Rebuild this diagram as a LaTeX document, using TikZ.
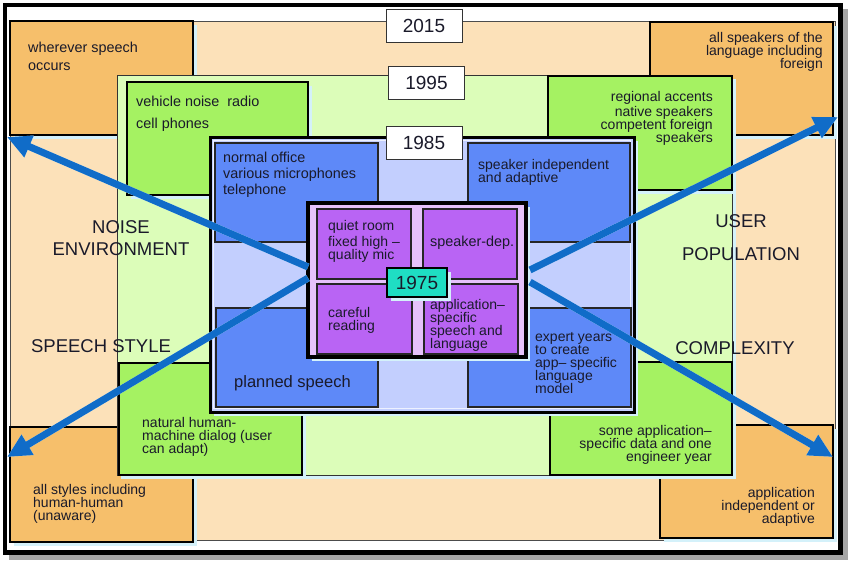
\documentclass[tikz,border=0pt]{standalone}
\usepackage{fontspec}
\setmainfont{Liberation Sans}
\usetikzlibrary{arrows.meta,shadows}
\definecolor{beige}{HTML}{FCE1B9}
\definecolor{orangeb}{HTML}{F6BF6B}
\definecolor{lgreen}{HTML}{DCFDB9}
\definecolor{dgreen}{HTML}{A5F262}
\definecolor{lblue}{HTML}{C3CFFE}
\definecolor{dblue}{HTML}{5E89F8}
\definecolor{lpurple}{HTML}{E6C2FB}
\definecolor{dpurple}{HTML}{B964F4}
\definecolor{yearteal}{HTML}{1FDEC3}
\definecolor{arrowblue}{HTML}{106CC8}
\definecolor{shadowc}{HTML}{D4F1FA}
\definecolor{txtc}{HTML}{1A1A2A}
\tikzset{
  shbox/.style={drop shadow={shadow xshift=4pt,shadow yshift=-4pt,fill=shadowc,opacity=1}},
  orangebox/.style={shbox,fill=orangeb,draw=black,line width=2.5pt},
  greenbox/.style={shbox,fill=dgreen,draw=black,line width=2.5pt},
  bluebox/.style={fill=dblue,draw=black!85,line width=1.2pt},
  purplebox/.style={fill=dpurple,draw=black!85,line width=1.2pt},
  yearbox/.style={fill=white,draw=black!80,line width=1pt,inner sep=0pt,
    minimum width=76pt,minimum height=33pt,font=\fontsize{19}{19}\selectfont,text=txtc},
  tight/.style={execute at begin node={\lineskiplimit=-30pt\lineskip=0pt}},
  txt/.style={tight,inner sep=0pt,text=txtc,align=left},
  txtr/.style={tight,inner sep=0pt,text=txtc,align=right},
  big/.style={tight,inner sep=0pt,text=txtc,align=center},
  bigarrow/.style={draw=arrowblue,line width=7pt,-{Triangle[length=24pt,width=22pt]}},
  arrowshadow/.style={draw=shadowc,line width=7pt,-{Triangle[length=24pt,width=22pt]}}
}
\begin{document}
\begin{tikzpicture}[x=1pt,y=-1pt]
\useasboundingbox (0,0) rectangle (852,563);
% outer frame
\fill[black!35] (9,9) rectangle (848,560);
\draw[line width=4.5pt,fill=white] (5,5) rectangle (840.5,552.5);
% 2015 area
\filldraw[fill=beige,draw=black!70,line width=0.8pt] (10,21) rectangle (835,540);
\draw[orangebox] (10,21) rectangle (193,135);
\draw[orangebox] (650,22) rectangle (833,135);
\draw[orangebox] (10,427) rectangle (193,542);
\draw[orangebox] (660,425) rectangle (833,538);
% 1995 area
\filldraw[shbox,fill=lgreen,draw=black!80,line width=1pt] (117,75) rectangle (732,475);
\draw[greenbox] (127,82) rectangle (308,195);
\draw[greenbox] (548,76) rectangle (732,190);
\draw[greenbox] (119,363) rectangle (302,475);
\draw[greenbox] (550,362) rectangle (732,475);
% 1985 area
\filldraw[shbox,fill=lblue,draw=black,line width=3pt] (210,137) rectangle (634,412);
\draw[white!70!lblue,line width=1.2pt] (213.5,140.5) rectangle (630.5,408.5);
\draw[bluebox] (215,143) rectangle (378,242);
\draw[bluebox] (468,143) rectangle (630,242);
\draw[bluebox] (216,308) rectangle (378,407);
\draw[bluebox] (468,308) rectangle (631,407);
% 1975 area
\filldraw[shbox,fill=lpurple,draw=black,line width=3.5pt] (308,203) rectangle (526,357);
\draw[purplebox] (317,209) rectangle (411,279);
\draw[purplebox] (423,209) rectangle (517,279);
\draw[purplebox] (317,284) rectangle (412,354);
\draw[purplebox] (424,284) rectangle (518,354);
% year labels
\node[yearbox] (y2015) at (424,26) {2015};
\node[yearbox] (y1995) at (426.5,82.5) {1995};
\node[yearbox] (y1985) at (424,143) {1985};
\node[yearbox,fill=yearteal,draw=black,line width=2.5pt,minimum width=60pt,minimum height=29pt,shbox] (y1975) at (417,282.5) {1975};
% arrows
\coordinate (cul) at (308,267);
\coordinate (cdl) at (308,278);
\coordinate (cur) at (530,270);
\coordinate (cdr) at (530,282);
\coordinate (tul) at (7,137);
\coordinate (tdl) at (7,457);
\coordinate (tur) at (838,117);
\coordinate (tdr) at (833,457);
\begin{scope}[shift={(3,3)}]
\draw[arrowshadow] (cul) -- (tul);
\draw[arrowshadow] (cdl) -- (tdl);
\draw[arrowshadow] (cur) -- (tur);
\draw[arrowshadow] (cdr) -- (tdr);
\end{scope}
\draw[bigarrow] (cul) -- (tul);
\draw[bigarrow] (cdl) -- (tdl);
\draw[bigarrow] (cur) -- (tur);
\draw[bigarrow] (cdr) -- (tdr);
% texts, outer corners
\node[txt,anchor=north west,font=\fontsize{14.4}{18}\selectfont] (t1) at (28,42) {wherever speech\\occurs};
\node[txtr,anchor=north east,font=\fontsize{14}{13}\selectfont] (t2) at (823,32) {all speakers of the\\language including\\foreign};
\node[txt,anchor=north west,font=\fontsize{14}{13}\selectfont] (t3) at (33,484) {all styles including\\human-human\\(unaware)};
\node[txtr,anchor=north east,font=\fontsize{14}{13}\selectfont] (t4) at (815,487) {application\\independent or\\adaptive};
% green boxes
\node[txt,anchor=north west,font=\fontsize{14.4}{22}\selectfont] (t5) at (136,96) {vehicle noise\ \ radio\\cell phones};
\node[txtr,anchor=north east,font=\fontsize{14}{13}\selectfont] (t6) at (713,91) {regional accents\\[2pt]native speakers\\competent foreign\\speakers};
\node[txt,anchor=north west,font=\fontsize{14}{13}\selectfont] (t7) at (142,417) {natural human-\\machine dialog (user\\can adapt)};
\node[txtr,anchor=north east,font=\fontsize{14}{13}\selectfont] (t8) at (712,425) {some application--\\specific data and one\\engineer year};
% blue boxes
\node[txt,anchor=north west,font=\fontsize{14.4}{16}\selectfont] (t9) at (223,152) {normal office\\various microphones\\telephone};
\node[txt,anchor=north west,font=\fontsize{14}{13}\selectfont] (t10) at (478,159) {speaker independent\\and adaptive};
\node[txt,anchor=west,font=\fontsize{16.5}{16.5}\selectfont] (t11) at (234,383) {planned speech};
\node[txt,anchor=north west,font=\fontsize{14}{13}\selectfont] (t12) at (535,332) {expert years\\to create\\app-- specific\\language\\model};
% purple boxes
\node[txt,anchor=north west,font=\fontsize{14}{13}\selectfont] (t13) at (328,220) {quiet room\\[3pt]fixed high --\\quality mic};
\node[txt,anchor=west,font=\fontsize{14.4}{14.4}\selectfont] (t14) at (430,243) {speaker-dep.};
\node[txt,anchor=north west,font=\fontsize{14}{13}\selectfont] (t15) at (328,307) {careful\\reading};
\node[txt,anchor=north west,font=\fontsize{14}{13}\selectfont] (t16) at (430,299) {application--\\specific\\speech and\\language};
% dimension labels
\node[big,font=\fontsize{18.5}{22}\selectfont] (noise) at (121,238) {NOISE\\ENVIRONMENT};
\node[big,font=\fontsize{18.5}{22}\selectfont] (style) at (101,346) {SPEECH STYLE};
\node[big,font=\fontsize{18.5}{33}\selectfont] (user) at (741,238) {USER\\POPULATION};
\node[big,font=\fontsize{18.5}{22}\selectfont] (cplx) at (735,348) {COMPLEXITY};
\end{tikzpicture}
\end{document}
